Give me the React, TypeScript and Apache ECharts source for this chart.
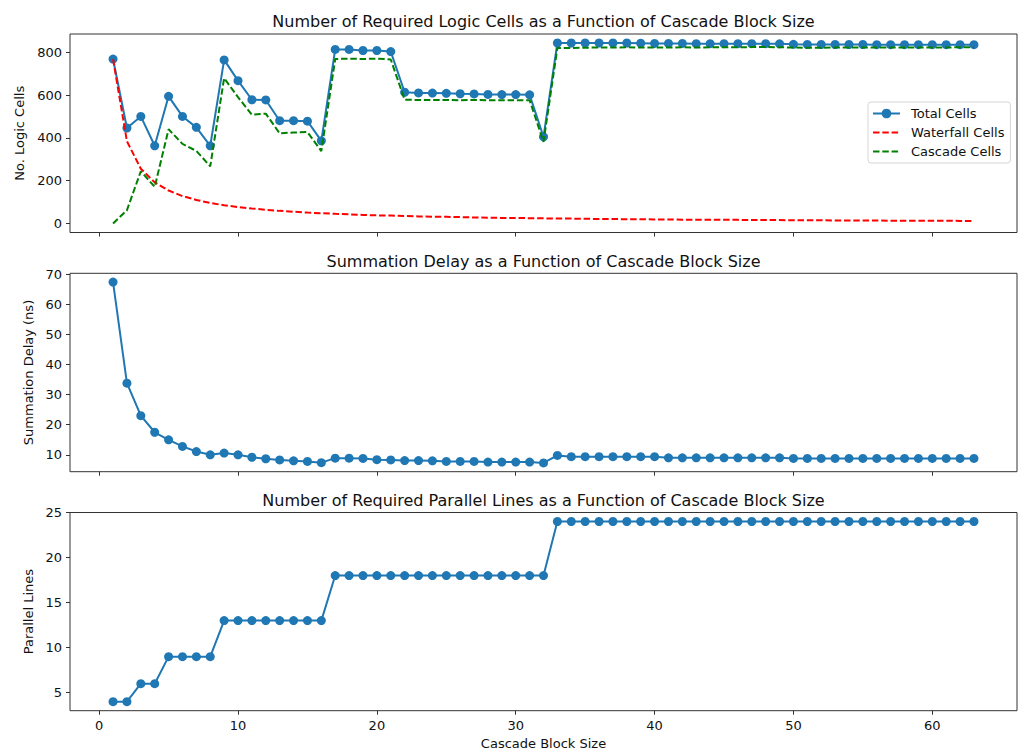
import React, { useEffect, useRef } from "react";
import * as echarts from "echarts";

// Cascade block sizes 1..63
const blockSizes: number[] = Array.from({ length: 63 }, (_, i) => i + 1);

const totalCells: number[] = [
  768, 446, 500, 363, 594, 500, 449, 363, 764, 667, 578, 577, 480, 480, 478, 386,
  813, 813, 808, 808, 803, 613, 610, 609, 608, 606, 605, 603, 602, 602, 601, 405,
  843, 843, 843, 843, 843, 843, 842, 841, 841, 841, 840, 840, 840, 840, 840, 840,
  839, 837, 836, 836, 836, 836, 836, 835, 835, 835, 835, 835, 835, 835, 835,
];

const waterfallCells: number[] = [
  768, 384, 256, 192, 154, 128, 110, 96, 85, 77, 70, 64, 59, 55, 51, 48,
  45, 43, 40, 38, 37, 35, 33, 32, 31, 30, 28, 27, 26, 26, 25, 24,
  23, 23, 22, 21, 21, 20, 20, 19, 19, 18, 18, 17, 17, 17, 16, 16,
  16, 15, 15, 15, 14, 14, 14, 14, 13, 13, 13, 13, 13, 12, 12,
];

const cascadeCells: number[] = [
  0, 62, 244, 171, 440, 372, 339, 267, 679, 590, 508, 513, 421, 425, 427, 338,
  768, 770, 768, 770, 766, 578, 577, 577, 577, 576, 577, 576, 576, 576, 576, 381,
  820, 820, 821, 822, 822, 823, 822, 822, 822, 823, 822, 823, 823, 823, 824, 824,
  823, 822, 821, 821, 822, 822, 822, 822, 822, 822, 822, 822, 822, 823, 823,
];

const summationDelay: number[] = [
  67.4, 33.8, 23.0, 17.5, 15.0, 12.8, 11.1, 10.0, 10.6, 10.0, 9.2, 8.7, 8.3, 8.0, 7.8, 7.4,
  8.9, 8.9, 8.8, 8.4, 8.3, 8.1, 8.1, 8.0, 7.8, 7.8, 7.8, 7.6, 7.6, 7.6, 7.6, 7.3,
  9.8, 9.4, 9.4, 9.4, 9.4, 9.4, 9.4, 9.4, 9.0, 9.0, 9.0, 9.0, 9.0, 9.0, 9.0, 9.0,
  9.0, 8.8, 8.8, 8.8, 8.8, 8.8, 8.8, 8.8, 8.8, 8.8, 8.8, 8.8, 8.8, 8.8, 8.8,
];

const parallelLines: number[] = [
  4, 4, 6, 6, 9, 9, 9, 9, 13, 13, 13, 13, 13, 13, 13, 13,
  18, 18, 18, 18, 18, 18, 18, 18, 18, 18, 18, 18, 18, 18, 18, 18,
  24, 24, 24, 24, 24, 24, 24, 24, 24, 24, 24, 24, 24, 24, 24, 24,
  24, 24, 24, 24, 24, 24, 24, 24, 24, 24, 24, 24, 24, 24, 24,
];

const xTicks = [0, 10, 20, 30, 40, 50, 60];
const cellTicks = [0, 200, 400, 600, 800];
const delayTicks = [10, 20, 30, 40, 50, 60, 70];
const lineTicks = [5, 10, 15, 20, 25];

const titles = [
  "Number of Required Logic Cells as a Function of Cascade Block Size",
  "Summation Delay as a Function of Cascade Block Size",
  "Number of Required Parallel Lines as a Function of Cascade Block Size",
];

const FONT = "DejaVu Sans";
const BLUE = "#1f77b4";
const TEXT = "#111";

const pairs = (ys: number[]) => blockSizes.map((x, i) => [x, ys[i]]);

export default function App() {
  const ref = useRef<HTMLDivElement>(null);

  useEffect(() => {
    document.body.style.margin = "0";
    if (!ref.current) return;
    const chart = echarts.init(ref.current, undefined, { renderer: "svg" });

    const grids = [
      { left: 70, right: 2, top: 34, height: 198.5 },
      { left: 70, right: 2, top: 273.3, height: 198.4 },
      { left: 70, right: 2, top: 512.5, height: 198.2 },
    ];

    const xAxisBase = (gridIndex: number, showLabels: boolean) => ({
      type: "value",
      gridIndex,
      min: -2.1,
      max: 66.1,
      splitLine: { show: false },
      axisLine: { show: false, onZero: false },
      axisTick: {
        show: true,
        length: 4,
        customValues: xTicks,
        lineStyle: { color: "#333", width: 1 },
      },
      axisLabel: {
        show: showLabels,
        customValues: xTicks,
        fontSize: 13,
        fontFamily: FONT,
        color: TEXT,
        margin: 8,
      },
    });

    const yAxisBase = (
      gridIndex: number,
      min: number,
      max: number,
      ticks: number[],
      name: string,
      nameGap: number
    ) => ({
      type: "value",
      gridIndex,
      min,
      max,
      name,
      nameLocation: "middle",
      nameGap,
      nameRotate: 90,
      nameTextStyle: { fontSize: 13, fontFamily: FONT, color: TEXT },
      splitLine: { show: false },
      axisLine: { show: false, onZero: false },
      axisTick: {
        show: true,
        length: 4,
        customValues: ticks,
        lineStyle: { color: "#333", width: 1 },
      },
      axisLabel: {
        customValues: ticks,
        fontSize: 13,
        fontFamily: FONT,
        color: TEXT,
        margin: 8,
      },
    });

    const bottomX: any = xAxisBase(2, true);
    bottomX.name = "Cascade Block Size";
    bottomX.nameLocation = "middle";
    bottomX.nameGap = 26;
    bottomX.nameTextStyle = { fontSize: 13, fontFamily: FONT, color: TEXT };

    const titleCenters = [21, 261, 500];

    chart.setOption({
      animation: false,
      backgroundColor: "#fff",
      textStyle: { fontFamily: FONT },
      grid: grids.map((g) => ({
        ...g,
        show: true,
        borderColor: "#333",
        borderWidth: 1,
        backgroundColor: "transparent",
      })),
      xAxis: [xAxisBase(0, false), xAxisBase(1, false), bottomX],
      yAxis: [
        yAxisBase(0, -42, 885, cellTicks, "No. Logic Cells", 42),
        yAxisBase(1, 4.4, 70.3, delayTicks, "Summation Delay (ns)", 33),
        yAxisBase(2, 3, 25, lineTicks, "Parallel Lines", 33),
      ],
      legend: {
        orient: "vertical",
        left: 868,
        top: 102,
        itemWidth: 27,
        itemHeight: 12,
        itemGap: 6,
        padding: [5, 6, 5, 4],
        backgroundColor: "rgba(255,255,255,0.8)",
        borderColor: "#d5d5d5",
        borderWidth: 1,
        borderRadius: 3,
        textStyle: { fontSize: 13, fontFamily: FONT, color: TEXT, padding: [0, 0, 0, 6] },
        data: [
          { name: "Total Cells" },
          { name: "Waterfall Cells", itemStyle: { opacity: 0 } },
          { name: "Cascade Cells", itemStyle: { opacity: 0 } },
        ],
      },
      graphic: titles.map((t, i) => ({
        type: "text",
        x: 543.5,
        y: titleCenters[i],
        style: {
          text: t,
          fontSize: 16,
          fontFamily: FONT,
          fill: TEXT,
          textAlign: "center",
          textVerticalAlign: "middle",
        },
      })),
      series: [
        {
          name: "Total Cells",
          type: "line",
          xAxisIndex: 0,
          yAxisIndex: 0,
          data: pairs(totalCells),
          symbol: "circle",
          symbolSize: 9,
          itemStyle: { color: BLUE },
          lineStyle: { color: BLUE, width: 2 },
          z: 2,
        },
        {
          name: "Waterfall Cells",
          type: "line",
          xAxisIndex: 0,
          yAxisIndex: 0,
          data: pairs(waterfallCells),
          showSymbol: false,
          symbol: "none",
          itemStyle: { color: "#ff0000" },
          lineStyle: { color: "#ff0000", width: 2, type: [6.5, 2.8] },
          z: 3,
        },
        {
          name: "Cascade Cells",
          type: "line",
          xAxisIndex: 0,
          yAxisIndex: 0,
          data: pairs(cascadeCells),
          showSymbol: false,
          symbol: "none",
          itemStyle: { color: "#008000" },
          lineStyle: { color: "#008000", width: 2, type: [6.5, 2.8] },
          z: 4,
        },
        {
          name: "Summation Delay",
          type: "line",
          xAxisIndex: 1,
          yAxisIndex: 1,
          data: pairs(summationDelay),
          symbol: "circle",
          symbolSize: 9,
          itemStyle: { color: BLUE },
          lineStyle: { color: BLUE, width: 2 },
        },
        {
          name: "Parallel Lines",
          type: "line",
          xAxisIndex: 2,
          yAxisIndex: 2,
          data: pairs(parallelLines),
          symbol: "circle",
          symbolSize: 9,
          itemStyle: { color: BLUE },
          lineStyle: { color: BLUE, width: 2 },
        },
      ],
    });

    return () => chart.dispose();
  }, []);

  return <div ref={ref} style={{ width: 1019, height: 752 }} />;
}
